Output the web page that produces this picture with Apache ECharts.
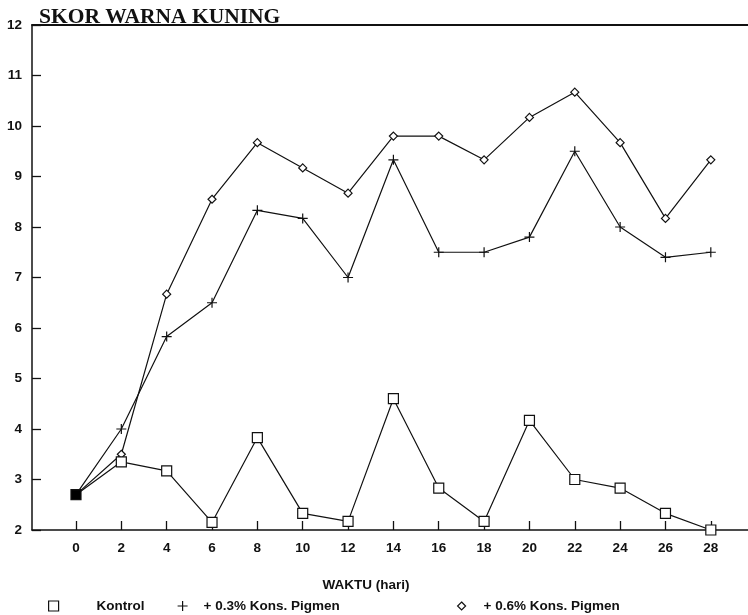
<!DOCTYPE html>
<html>
<head>
<meta charset="utf-8">
<script src="https://cdn.jsdelivr.net/npm/echarts@6/dist/echarts.min.js"></script>
<style>
  html, body { margin: 0; padding: 0; background: #fff; }
  #chart { width: 748px; height: 615px; }
</style>
</head>
<body>
<div id="chart"></div>
<script>
// Days of observation and yellow-colour scores per treatment
const days = [0, 2, 4, 6, 8, 10, 12, 14, 16, 18, 20, 22, 24, 26, 28];
const kontrol = [2.7, 3.35, 3.17, 2.15, 3.83, 2.33, 2.17, 4.6, 2.83, 2.17, 4.17, 3.0, 2.83, 2.33, 2.0];
const pigmen03 = [2.7, 4.0, 5.83, 6.5, 8.33, 8.17, 7.0, 9.33, 7.5, 7.5, 7.8, 9.5, 8.0, 7.4, 7.5];
const pigmen06 = [2.7, 3.5, 6.67, 8.55, 9.67, 9.17, 8.67, 9.8, 9.8, 9.33, 10.17, 10.67, 9.67, 8.17, 9.33];
const xTicks = [0, 2, 4, 6, 8, 10, 12, 14, 16, 18, 20, 22, 24, 26, 28];
const seriesNames = ['Kontrol', '+ 0.3% Kons. Pigmen', '+ 0.6% Kons. Pigmen'];

const PLUS = 'path://M0,5L10,5M5,0L5,10';
const labelFont = 'Liberation Sans';

function pairs(vals) {
  return days.map((d, i) => [d, vals[i]]);
}

const kontrolData = pairs(kontrol);
// the three treatments share the starting value; the overlapping marks read as a solid square
kontrolData[0] = { value: kontrolData[0], itemStyle: { color: '#000' } };

function lineSeries(name, data, symbol, size, z) {
  return {
    name: name,
    type: 'line',
    data: data,
    symbol: symbol,
    symbolSize: size,
    showAllSymbol: true,
    z: z,
    lineStyle: { color: '#111', width: 1.2 },
    itemStyle: { color: '#fff', borderColor: '#111', borderWidth: 1.2 },
    emphasis: { disabled: true },
    animation: false
  };
}

function legendFor(name, left, gap, icon, size) {
  return {
    left: left,
    top: 594,
    data: [{ name: name, icon: icon }],
    itemWidth: size,
    itemHeight: size,
    lineStyle: { opacity: 0 },
    itemStyle: { color: '#fff', borderColor: '#111', borderWidth: 1.2 },
    selectedMode: false,
    formatter: '{s|}{t|{name}}',
    textStyle: {
      rich: {
        s: { width: gap },
        t: { fontFamily: labelFont, fontWeight: 'bold', fontSize: 13.5, color: '#111' }
      }
    }
  };
}

const chart = echarts.init(document.getElementById('chart'), null, { renderer: 'canvas' });
chart.setOption({
  backgroundColor: '#fff',
  animation: false,
  title: [
    {
      text: 'SKOR WARNA KUNING',
      left: 34,
      top: 1,
      textStyle: { fontFamily: 'Liberation Serif', fontWeight: 'bold', fontSize: 21.5, color: '#111' }
    },
    {
      text: 'WAKTU (hari)',
      left: 361,
      top: 573,
      textAlign: 'center',
      textStyle: { fontFamily: labelFont, fontWeight: 'bold', fontSize: 13.5, color: '#111' }
    }
  ],
  legend: [
    legendFor(seriesNames[0], 43, 33, 'rect', 10),
    legendFor(seriesNames[1], 172, 11, PLUS, 10),
    legendFor(seriesNames[2], 452, 13, 'diamond', 8)
  ],
  grid: { left: 32, right: 0, top: 25, bottom: 85 },
  xAxis: [
    {
      type: 'value',
      min: -1.94,
      max: 29.64,
      axisLine: { lineStyle: { color: '#111', width: 1.5 } },
      axisTick: { inside: true, length: 9, customValues: xTicks, lineStyle: { color: '#111', width: 1.3 } },
      axisLabel: {
        customValues: xTicks,
        margin: 11,
        fontFamily: labelFont,
        fontWeight: 'bold',
        fontSize: 13.5,
        color: '#111'
      },
      splitLine: { show: false }
    },
    {
      type: 'value',
      position: 'top',
      min: -1.94,
      max: 29.64,
      axisLine: { show: true, lineStyle: { color: '#111', width: 1.8 } },
      axisTick: { show: false },
      axisLabel: { show: false },
      splitLine: { show: false }
    }
  ],
  yAxis: {
    type: 'value',
    min: 2,
    max: 12,
    interval: 1,
    axisLine: { show: true, onZero: false, lineStyle: { color: '#111', width: 1.5 } },
    axisTick: { show: true, inside: true, length: 9, lineStyle: { color: '#111', width: 1.3 } },
    axisLabel: { margin: 10, fontFamily: labelFont, fontWeight: 'bold', fontSize: 13.5, color: '#111' },
    splitLine: { show: false }
  },
  series: [
    lineSeries(seriesNames[2], pairs(pigmen06), 'diamond', 8, 2),
    lineSeries(seriesNames[1], pairs(pigmen03), PLUS, 10, 3),
    lineSeries(seriesNames[0], kontrolData, 'rect', 10, 4)
  ]
});
</script>
</body>
</html>
